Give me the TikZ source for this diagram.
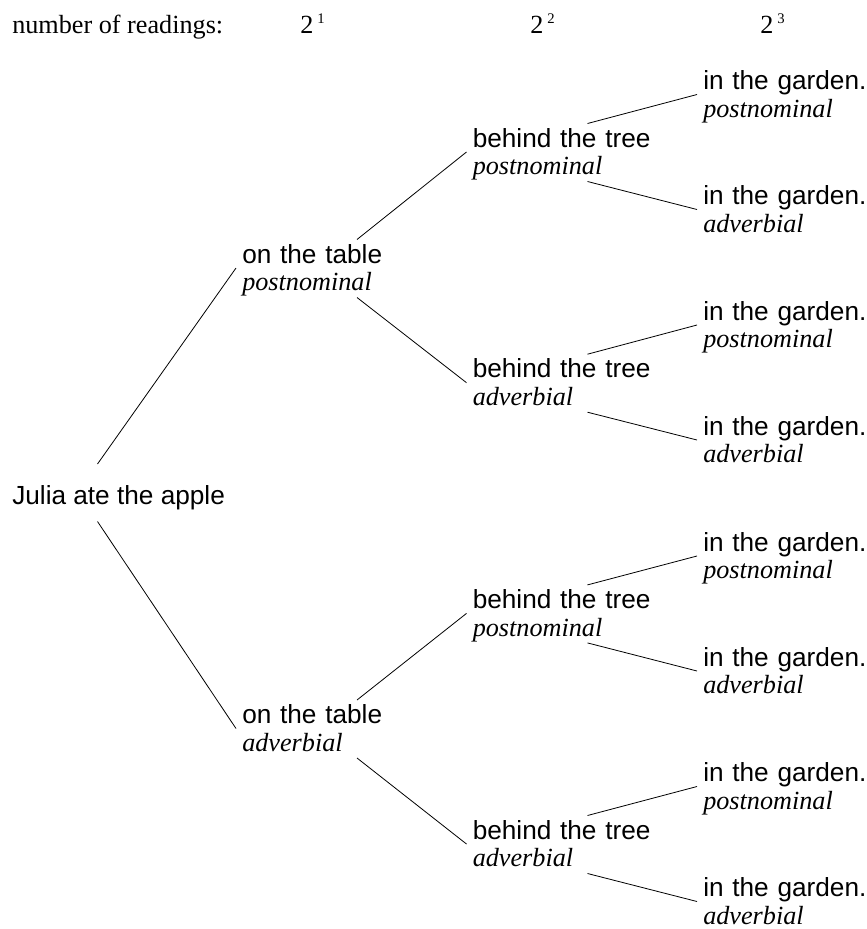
\documentclass[tikz,border=0pt]{standalone}
\usepackage{fontspec}
\setmainfont{Liberation Serif}
\newfontfamily\arial{Liberation Sans}
\usepackage{tikz}

% one reading: phrase in sans, attachment below in italics
\newcommand{\rdg}[2]{{\arial #1}\\
                     \textit{#2}
                    }
% 2 to the power n, as printed in the header
\newcommand{\pow}[1]{2\hspace{3pt}\raisebox{7pt}{\fontsize{11pt}{11pt}\selectfont #1}}

\begin{document}
\begin{tikzpicture}[x=0.75pt,y=-0.75pt,
   every node/.style={inner sep=0pt,anchor=base west,
                      font=\fontsize{19.65pt}{20.8pt}\selectfont},
   reading/.style={text width=140pt,align=left},
   branch/.style={draw=black,line width=0.6pt}]
 \useasboundingbox (0,0) rectangle (867,929);

 % header
 \draw (12,33)  node (H)  {number of readings:};
 \draw (300,33) node (N1) {\pow{1}};
 \draw (530,33) node (N2) {\pow{2}};
 \draw (760,33) node (N3) {\pow{3}};

 % root
 \draw (12,504) node (J) {\arial Julia ate the apple};

 % on the table
 \draw (242,263)   node[reading] (T1) {\rdg{on the table}{postnominal}};
 \draw (242,723.5) node[reading] (T2) {\rdg{on the table}{adverbial}};

 % behind the tree
 \draw (472.5,147)   node[reading] (B1) {\rdg{behind the tree}{postnominal}};
 \draw (472.5,377.7) node[reading] (B2) {\rdg{behind the tree}{adverbial}};
 \draw (472.5,608.4) node[reading] (B3) {\rdg{behind the tree}{postnominal}};
 \draw (472.5,839)   node[reading] (B4) {\rdg{behind the tree}{adverbial}};

 % in the garden
 \draw (703,89.5)  node[reading] (G1) {\rdg{in the garden.}{postnominal}};
 \draw (703,204.5) node[reading] (G2) {\rdg{in the garden.}{adverbial}};
 \draw (703,320)   node[reading] (G3) {\rdg{in the garden.}{postnominal}};
 \draw (703,435)   node[reading] (G4) {\rdg{in the garden.}{adverbial}};
 \draw (703,551)   node[reading] (G5) {\rdg{in the garden.}{postnominal}};
 \draw (703,666)   node[reading] (G6) {\rdg{in the garden.}{adverbial}};
 \draw (703,781.5) node[reading] (G7) {\rdg{in the garden.}{postnominal}};
 \draw (703,896.5) node[reading] (G8) {\rdg{in the garden.}{adverbial}};

 % branches
 \draw[branch] ([shift={(85.5,-40)}]J.base west) -- ([shift={(-6,5)}]T1.base west);
 \draw[branch] ([shift={(85.5,17.5)}]J.base west) -- ([shift={(-6,5)}]T2.base west);

 \draw[branch] ([shift={(115,-23.5)}]T1.base west) -- ([shift={(-6,5)}]B1.base west);
 \draw[branch] ([shift={(115,34.5)}]T1.base west)  -- ([shift={(-6,5)}]B2.base west);
 \draw[branch] ([shift={(115,-23.5)}]T2.base west) -- ([shift={(-6,5)}]B3.base west);
 \draw[branch] ([shift={(115,34.5)}]T2.base west)  -- ([shift={(-6,5)}]B4.base west);

 \draw[branch] ([shift={(115,-23.5)}]B1.base west) -- ([shift={(-6,5)}]G1.base west);
 \draw[branch] ([shift={(115,34.5)}]B1.base west)  -- ([shift={(-6,5)}]G2.base west);
 \draw[branch] ([shift={(115,-23.5)}]B2.base west) -- ([shift={(-6,5)}]G3.base west);
 \draw[branch] ([shift={(115,34.5)}]B2.base west)  -- ([shift={(-6,5)}]G4.base west);
 \draw[branch] ([shift={(115,-23.5)}]B3.base west) -- ([shift={(-6,5)}]G5.base west);
 \draw[branch] ([shift={(115,34.5)}]B3.base west)  -- ([shift={(-6,5)}]G6.base west);
 \draw[branch] ([shift={(115,-23.5)}]B4.base west) -- ([shift={(-6,5)}]G7.base west);
 \draw[branch] ([shift={(115,34.5)}]B4.base west)  -- ([shift={(-6,5)}]G8.base west);

\end{tikzpicture}
\end{document}
